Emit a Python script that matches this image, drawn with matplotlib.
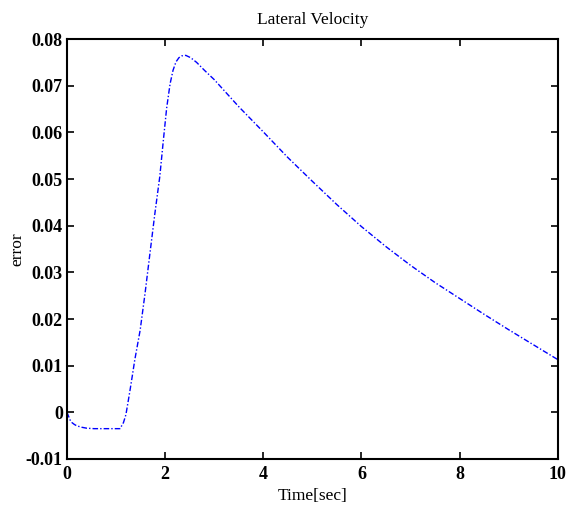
import matplotlib
matplotlib.use("Agg")
import matplotlib.pyplot as plt

time_sec = [0.0, 0.03, 0.06, 0.1, 0.15, 0.2, 0.3, 0.4, 0.55, 0.67, 0.85, 1.0, 1.08,
            1.15, 1.2, 1.25, 1.28, 1.33, 1.38, 1.49, 1.59, 1.69, 1.79, 1.89, 1.96,
            2.03, 2.10, 2.16, 2.22, 2.28, 2.34, 2.42, 2.52, 2.64, 2.80, 3.0, 3.25,
            3.5, 3.75, 4.0, 4.5, 5.0, 5.5, 6.0, 6.5, 7.0, 7.5, 8.0, 8.5, 9.0, 9.5, 10.0]
error = [0.0, -0.0008, -0.0016, -0.0022, -0.0026, -0.0029, -0.0032, -0.0034, -0.0035,
         -0.0035, -0.0035, -0.0035, -0.0035, -0.0022, -0.0005, 0.0026, 0.0045, 0.0078,
         0.0112, 0.0176, 0.0255, 0.0341, 0.0426, 0.0505, 0.0580, 0.0652, 0.0704,
         0.0733, 0.0751, 0.0760, 0.0764, 0.0765, 0.0760, 0.0750, 0.0733, 0.0713,
         0.0684, 0.0655, 0.0628, 0.0601, 0.0546, 0.0495, 0.0445, 0.0398, 0.0355,
         0.0315, 0.0278, 0.0244, 0.0210, 0.0177, 0.0145, 0.0113]

x_ticks = [0, 2, 4, 6, 8, 10]
y_ticks = [-0.01, 0, 0.01, 0.02, 0.03, 0.04, 0.05, 0.06, 0.07, 0.08]
y_tick_labels = ["-0.01", "0", "0.01", "0.02", "0.03", "0.04", "0.05", "0.06", "0.07", "0.08"]

plt.rcParams['font.family'] = ['Liberation Serif', 'DejaVu Serif']

fig = plt.figure(figsize=(5.68, 5.07), dpi=100)
ax = fig.add_axes([0.118, 0.0947, 0.864, 0.8283])
ax.plot(time_sec, error, color='#0000ff', linewidth=1.0, linestyle=(0, (4, 1.5, 1, 1.5)))
ax.set_xlim(0, 10)
ax.set_ylim(-0.01, 0.08)
ax.set_xticks(x_ticks)
ax.set_xticklabels([str(v) for v in x_ticks])
ax.set_yticks(y_ticks)
ax.set_yticklabels(y_tick_labels)
ax.tick_params(direction='in', top=True, right=True, length=5, width=1.2,
               labelsize=13, pad=3)
ax.tick_params(axis='x', pad=5)
for lbl in ax.get_xticklabels() + ax.get_yticklabels():
    lbl.set_fontweight('bold')
for sp in ax.spines.values():
    sp.set_linewidth(1.5)
ax.set_title("Lateral Velocity", fontsize=12.5, pad=11)
ax.set_xlabel("Time[sec]", fontsize=12.5, labelpad=4)
ax.set_ylabel("error", fontsize=12.5, labelpad=0.5)
fig.savefig("out.png", dpi=100)
